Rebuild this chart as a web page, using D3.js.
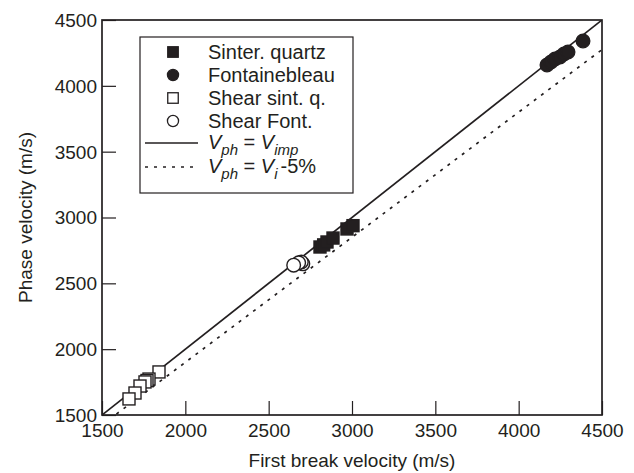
<!DOCTYPE html>
<html><head><meta charset="utf-8">
<script src="https://cdn.jsdelivr.net/npm/d3@7"></script>
<style>
html,body{margin:0;padding:0;background:#fff;}
text{font-family:"Liberation Sans",Arial,sans-serif;fill:#231f20;}
</style></head>
<body><svg id="c" width="634" height="473"></svg>
<script>
const xTicks = [1500, 2000, 2500, 3000, 3500, 4000, 4500];
const yTicks = [1500, 2000, 2500, 3000, 3500, 4000, 4500];

const sinterX = [2808, 2830, 2850, 2886, 2970, 3006];
const sinterY = [2776, 2792, 2814, 2844, 2913, 2938];

const fontX = [4170, 4194, 4218, 4248, 4272, 4296, 4386];
const fontY = [4158, 4181, 4204, 4219, 4242, 4257, 4340];

const shearSintX = [1842, 1782, 1770, 1758, 1728, 1698, 1662];
const shearSintY = [1827, 1773, 1762, 1751, 1720, 1667, 1622];

const shearFontX = [2705, 2696, 2680, 2650];
const shearFontY = [2648, 2662, 2656, 2638];

const legendLabels = ["Sinter. quartz", "Fontainebleau", "Shear sint. q.", "Shear Font."];

const svg = d3.select("#c");
const M = {l:102, r:602, t:20, b:415};
const x = d3.scaleLinear().domain([1500,4500]).range([M.l, M.r]);
const y = d3.scaleLinear().domain([1500,4500]).range([M.b, M.t]);
const ink = "#231f20";
const FS = 19;

// axes with inward ticks
const xAx = svg.append("g").attr("transform",`translate(0,${M.b})`)
  .call(d3.axisBottom(x).tickValues(xTicks).tickSizeInner(-14).tickSizeOuter(0).tickPadding(9).tickFormat(d3.format("d")));
const yAx = svg.append("g").attr("transform",`translate(${M.l},0)`)
  .call(d3.axisLeft(y).tickValues(yTicks).tickSizeInner(-14).tickSizeOuter(0).tickPadding(5).tickFormat(d3.format("d")));
[xAx,yAx].forEach(g=>{
  g.select(".domain").remove();
  g.selectAll("line").attr("stroke",ink).attr("stroke-width",1.2);
  g.selectAll("text").attr("font-size",FS).attr("fill",ink).style("font-family","Liberation Sans, Arial, sans-serif");
});
xAx.selectAll("text").attr("dy","0.71em");
yAx.selectAll("text").attr("dy","0.34em");

const clip = svg.append("clipPath").attr("id","pc").append("rect")
  .attr("x",M.l).attr("y",M.t).attr("width",M.r-M.l).attr("height",M.b-M.t);
const plot = svg.append("g").attr("clip-path","url(#pc)");

// reference lines
const line = d3.line().x(d=>x(d[0])).y(d=>y(d[1]));
plot.append("path").attr("d", line([[1500,1500],[4500,4500]]))
  .attr("stroke",ink).attr("stroke-width",1.7).attr("fill","none");
plot.append("path").attr("d", line([[1500,1500*0.95],[4500,4500*0.95]]))
  .attr("stroke",ink).attr("stroke-width",1.7).attr("fill","none").attr("stroke-dasharray","3,6");

const S = 12, R = 6.8;
function squares(xs, ys, filled){
  plot.append("g").selectAll("rect").data(xs.map((v,i)=>[v,ys[i]])).join("rect")
    .attr("x",d=>x(d[0])-S/2).attr("y",d=>y(d[1])-S/2).attr("width",S).attr("height",S)
    .attr("fill",filled?ink:"#fff").attr("stroke",ink).attr("stroke-width",1.4);
}
function circles(xs, ys, filled){
  plot.append("g").selectAll("circle").data(xs.map((v,i)=>[v,ys[i]])).join("circle")
    .attr("cx",d=>x(d[0])).attr("cy",d=>y(d[1])).attr("r",R)
    .attr("fill",filled?ink:"#fff").attr("stroke",ink).attr("stroke-width",1.4);
}
squares(sinterX, sinterY, true);
circles(fontX, fontY, true);
squares(shearSintX, shearSintY, false);
circles(shearFontX, shearFontY, false);

// frame
svg.append("rect").attr("x",M.l).attr("y",M.t).attr("width",M.r-M.l).attr("height",M.b-M.t)
  .attr("fill","none").attr("stroke",ink).attr("stroke-width",1.7);

// legend
const lg = svg.append("g");
lg.append("rect").attr("x",140).attr("y",37).attr("width",213).attr("height",156)
  .attr("fill","#fff").attr("stroke",ink).attr("stroke-width",1.2);
const rowY = [52, 75, 98, 121];
const mx = 173, tx = 208, LS = 10.5;
legendLabels.forEach((t,i)=>{
  const yy = rowY[i];
  if(i===0||i===2){
    lg.append("rect").attr("x",mx-LS/2).attr("y",yy-LS/2).attr("width",LS).attr("height",LS)
      .attr("fill",i===0?ink:"#fff").attr("stroke",ink).attr("stroke-width",1.3);
  } else {
    lg.append("circle").attr("cx",mx).attr("cy",yy).attr("r",LS/2+0.3)
      .attr("fill",i===1?ink:"#fff").attr("stroke",ink).attr("stroke-width",1.3);
  }
  lg.append("text").attr("x",tx).attr("y",yy+7).attr("font-size",20).text(t);
});
lg.append("line").attr("x1",145).attr("x2",198).attr("y1",143).attr("y2",143)
  .attr("stroke",ink).attr("stroke-width",1.5);
lg.append("line").attr("x1",145).attr("x2",198).attr("y1",167).attr("y2",167)
  .attr("stroke",ink).attr("stroke-width",1.5).attr("stroke-dasharray","3,6");

function mathLabel(yy, subR, tail){
  const t = lg.append("text").attr("x",tx).attr("y",yy).attr("font-size",20);
  t.append("tspan").attr("font-style","italic").text("V");
  t.append("tspan").attr("font-style","italic").attr("font-size",15).attr("dy",6).text("ph");
  t.append("tspan").attr("dy",-6).text(" = ");
  t.append("tspan").attr("font-style","italic").text("V");
  t.append("tspan").attr("font-style","italic").attr("font-size",15).attr("dy",6).text(subR);
  if(tail) t.append("tspan").attr("dy",-6).attr("dx",3).text(tail);
}
mathLabel(148.5, "imp", null);
mathLabel(172.5, "i", "-5%");

// axis titles
svg.append("text").attr("x",(M.l+M.r)/2).attr("y",467).attr("text-anchor","middle")
  .attr("font-size",FS).text("First break velocity (m/s)");
svg.append("text").attr("transform",`translate(32,${(M.t+M.b)/2}) rotate(-90)`)
  .attr("text-anchor","middle").attr("font-size",FS).text("Phase velocity (m/s)");
</script></body></html>
